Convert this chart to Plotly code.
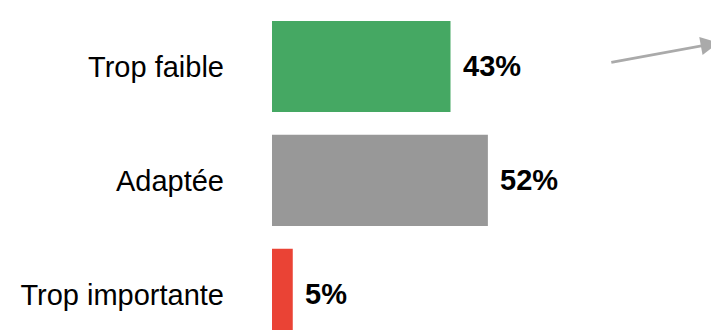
import plotly.graph_objects as go

# ── Data ──────────────────────────────────────────────────────────────────────
categories = ['Trop faible', 'Adaptée', 'Trop importante']
values = [43, 52, 5]
colors = ['#45A863', '#989898', '#EA4335']

FONT = 'Liberation Sans, Arial, sans-serif'

# ── Bars ──────────────────────────────────────────────────────────────────────
fig = go.Figure(go.Bar(
    x=values, y=categories, orientation='h',
    marker=dict(color=colors, line=dict(width=0)),
    hoverinfo='skip',
))

# value labels to the right of each bar
for cat, v in zip(categories, values):
    fig.add_annotation(x=v, y=cat, text=f'<b>{v}%</b>', showarrow=False,
                       xanchor='left', yanchor='middle', xshift=10,
                       font=dict(family=FONT, size=29, color='#000000'))

# grey arrow, top right
fig.add_annotation(x=0.982, y=0.895, xref='paper', yref='paper', text='',
                   showarrow=True, arrowhead=2, arrowsize=1.3, arrowwidth=2.8,
                   arrowcolor='#AAAAAA', ax=-109, ay=20)

fig.update_layout(
    width=719, height=330,
    margin=dict(l=264, r=0, t=0, b=0),
    plot_bgcolor='white', paper_bgcolor='white',
    bargap=0.2, showlegend=False,
    font=dict(family=FONT, color='#000000'),
)
fig.update_xaxes(range=[0, 109.6], visible=False)
fig.update_yaxes(type='category', categoryorder='array', categoryarray=categories,
                 range=[2.382, -0.513], showgrid=False, zeroline=False,
                 showline=False, ticks='', ticklabelstandoff=47,
                 tickfont=dict(family=FONT, size=29, color='#000000'))

fig.write_html('out.html')
